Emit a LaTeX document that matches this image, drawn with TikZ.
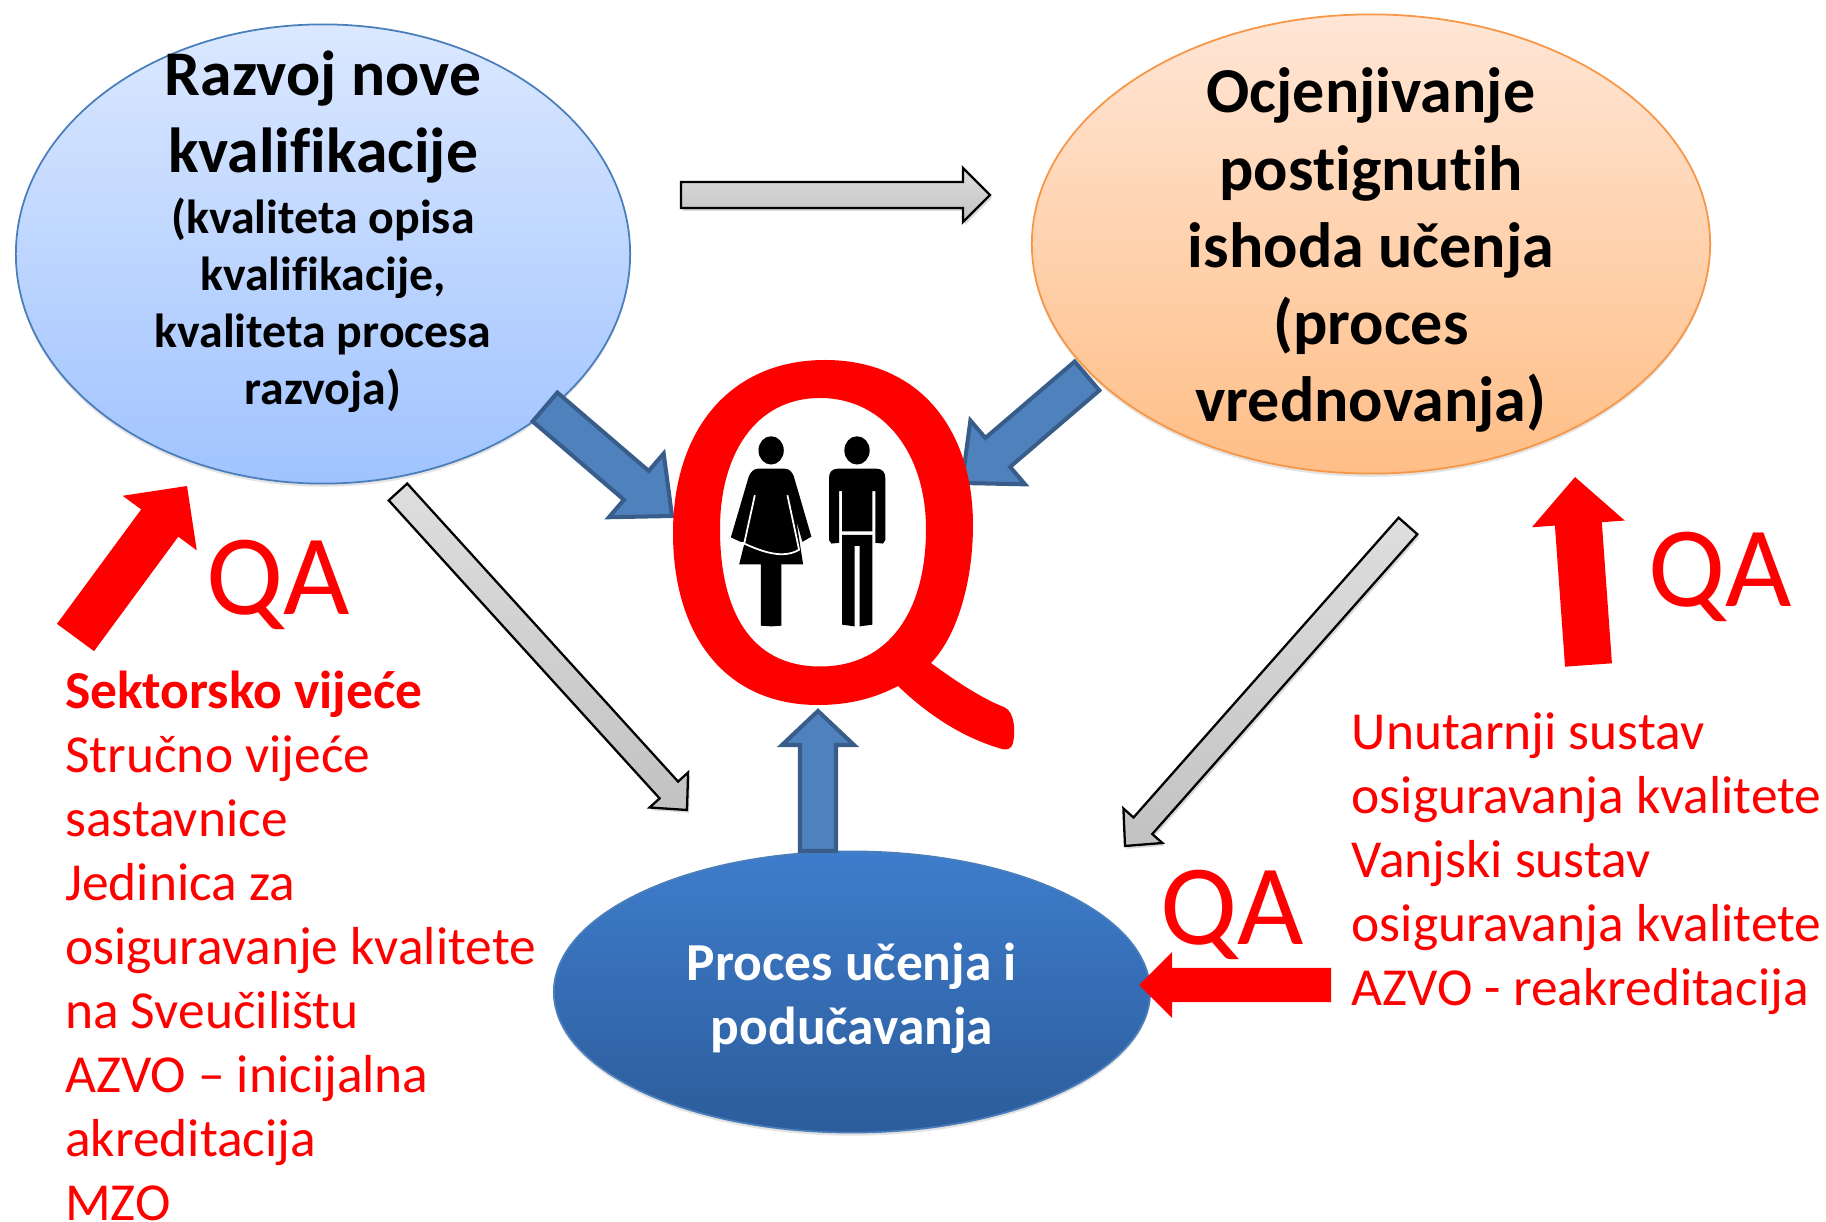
\documentclass[tikz,border=0pt]{standalone}
\usepackage{fontspec}
\setmainfont[Ligatures=NoCommon]{Carlito}
\usepackage{tikz}
\usetikzlibrary{calc, shapes.geometric, shadows}
\definecolor{colorRed}{RGB}{255,0,0}
\definecolor{colorBlock}{RGB}{79,129,189}
\definecolor{colorBlockLine}{RGB}{56,93,138}
\definecolor{colorRazvoj}{RGB}{74,126,187}
\definecolor{colorOcjena}{RGB}{247,150,70}
\def\px{0.2845pt}
\newcommand{\headsize}{\fontsize{18.1}{21.7}\selectfont}
\tikzset{
  softshadow/.style={drop shadow={shadow xshift=0pt, shadow yshift=-0.9pt, opacity=0.22}},
  bubble/.style={ellipse, draw, line width=0.5pt, inner sep=0pt, softshadow},
  redtext/.style={text=colorRed, align=left, anchor=north west, inner sep=0pt, font=\fontsize{15.2}{18.2}\selectfont},
  qatext/.style={text=colorRed, inner sep=0pt, font=\fontsize{32.6}{39}\selectfont},
  greyarrow/.style={draw=black, line width=0.65pt, top color=gray!26, bottom color=gray!48, drop shadow={shadow xshift=0.6pt, shadow yshift=-0.8pt, opacity=0.3}},
  bluearrow/.style={draw=colorBlockLine, line width=1.15pt, fill=colorBlock},
  redarrow/.style={draw=none, fill=colorRed}
}
% style, from, to, half shaft, half head, head length
\newcommand{\blockarrow}[6]{
  \coordinate (base) at ($(#3)!#6*\px!(#2)$);
  \draw[#1] ($(#2)!#4*\px!90:(#3)$) -- ($(base)!#4*\px!-90:(#2)$) -- ($(base)!#5*\px!-90:(#2)$) -- (#3)
    -- ($(base)!#5*\px!90:(#2)$) -- ($(base)!#4*\px!90:(#2)$) -- ($(#2)!#4*\px!-90:(#3)$) -- cycle;
}
\begin{document}
\begin{tikzpicture}[x=0.01cm, y=-0.01cm]
\useasboundingbox (0,0) rectangle (1826,1222);
\node[bubble, draw=colorRazvoj, top color={rgb,255:red,219;green,232;blue,255}, bottom color={rgb,255:red,160;green,195;blue,255}, minimum width=614*\px, minimum height=459*\px,
  label={[align=center, yshift=6.3pt, font=\bfseries\fontsize{13.6}{16.2}\selectfont]center:{\headsize Razvoj nove\\[5.7pt]\headsize kvalifikacije\\[1pt](kvaliteta opisa\\kvalifikacije,\\kvaliteta procesa\\razvoja)}}] (razvoj) at (323,254) {};
\node[bubble, draw=colorOcjena, top color={rgb,255:red,255;green,230;blue,214}, bottom color={rgb,255:red,255;green,190;blue,134}, minimum width=678*\px, minimum height=459*\px,
  label={[align=center, yshift=-1.7pt, font=\bfseries\fontsize{18.2}{21.9}\selectfont]center:{Ocjenjivanje\\postignutih\\ishoda učenja\\(proces\\vrednovanja)}}] (ocjena) at (1371,244) {};
\node[bubble, draw=colorRazvoj, top color={rgb,255:red,62;green,125;blue,204}, bottom color={rgb,255:red,44;green,92;blue,155}, minimum width=596*\px, minimum height=281*\px,
  label={[align=center, yshift=-1.7pt, text=white, font=\bfseries\fontsize{15.2}{18.2}\selectfont]center:{Proces učenja i\\podučavanja}}] (proces) at (852,992) {};
% grey arrows
\coordinate (g1s) at (681,195);
\coordinate (g1e) at (990,195);
\coordinate (g2s) at (398,492);
\coordinate (g2e) at (687,810);
\coordinate (g3s) at (1408,526);
\coordinate (g3e) at (1125,846);
\blockarrow{greyarrow}{g1s}{g1e}{13}{27}{27}
\blockarrow{greyarrow}{g2s}{g2e}{12.5}{26}{27}
\blockarrow{greyarrow}{g3s}{g3e}{12.5}{26}{27}
% blue arrows
\coordinate (b1s) at (545,407);
\coordinate (b1e) at (672,516);
\coordinate (b2s) at (1087,376);
\coordinate (b2e) at (962,483);
\coordinate (b3s) at (818,851);
\coordinate (b3e) at (818,711);
\blockarrow{bluearrow}{b1s}{b1e}{19}{42}{47}
\blockarrow{bluearrow}{b2s}{b2e}{19}{42}{47}
\blockarrow{bluearrow}{b3s}{b3e}{18}{36}{34}
% red arrows
\coordinate (r1s) at (75.5,637.5);
\coordinate (r1e) at (187,486);
\coordinate (r2s) at (1588.5,665);
\coordinate (r2e) at (1575,477);
\coordinate (r3s) at (1331,985);
\coordinate (r3e) at (1139,985);
\blockarrow{redarrow}{r1s}{r1e}{23}{46}{46}
\blockarrow{redarrow}{r2s}{r2e}{23.5}{46.5}{47}
\blockarrow{redarrow}{r3s}{r3e}{17}{33}{33}
\node[qatext] (qa1) at (278,585) {QA};
\node[qatext] (qa2) at (1720,577) {QA};
\node[qatext] (qa3) at (1232,915) {QA};
\node[redtext] (sektor) at (64.5,670) {\textbf{Sektorsko vijeće}\\Stručno vijeće\\sastavnice\\Jedinica za\\osiguravanje kvalitete\\na Sveučilištu\\AZVO – inicijalna\\akreditacija\\MZO};
\node[redtext] (sustav) at (1351,712) {Unutarnji sustav\\osiguravanja kvalitete\\Vanjski sustav\\osiguravanja kvalitete\\AZVO - reakreditacija};
% the Q
\fill[colorRed, even odd rule] (825,360) .. controls (920,360) and (973,430) .. (973,525) .. controls (973,580) and (958,635) .. (931,663)
  .. controls (958,683) and (985,700) .. (1004,707) .. controls (1016,712) and (1015,735) .. (1013,743) .. controls (1011,750) and (1006,750) .. (1002,749)
  .. controls (960,737) and (925,712) .. (898,686) .. controls (875,698) and (850,705) .. (818,705)
  .. controls (725,705) and (673,635) .. (673,533) .. controls (673,430) and (730,360) .. (825,360)
  (820,398) .. controls (755,398) and (720,455) .. (720,529) .. controls (720,610) and (750,666.5) .. (820,666.5)
  .. controls (890,666.5) and (926,610) .. (926,529) .. controls (926,455) and (885,398) .. (820,398);
% the people
\begin{scope}[shift={(650,340)}, x=0.00333cm, y=-0.003444cm]
\fill[black] (364,320) circle [x radius=38, y radius=41];
\fill[black] (622,320) circle [x radius=38, y radius=41];
\fill[black] (325,373) -- (405,373) .. controls (420,373) and (428,385) .. (432,395) -- (485,570) -- (458,585) -- (440,525)
  -- (460,650) -- (395,650) -- (395,828) -- (365,830) -- (333,828) -- (333,650) -- (268,650) -- (285,585) -- (272,585) -- (243,572)
  -- (297,395) .. controls (302,385) and (310,373) .. (325,373) -- cycle;
\draw[white, line width=0.5pt] (315,450) -- (283,590) .. controls (340,615) and (400,635) .. (448,608) -- (413,450);
\fill[black] (565,373) -- (680,373) .. controls (700,373) and (707,385) .. (707,400) -- (707,580) -- (700,590) -- (677,588) -- (677,438) -- (668,438)
  -- (668,555) -- (577,555) -- (577,438) -- (568,438) -- (568,588) -- (545,590) -- (538,580) -- (538,400) .. controls (538,385) and (545,373) .. (565,373) -- cycle;
\fill[black] (577,565) -- (668,565) -- (668,825) -- (630,830) -- (630,597) -- (615,597) -- (615,830) -- (577,825) -- cycle;
\end{scope}
\end{tikzpicture}
\end{document}
